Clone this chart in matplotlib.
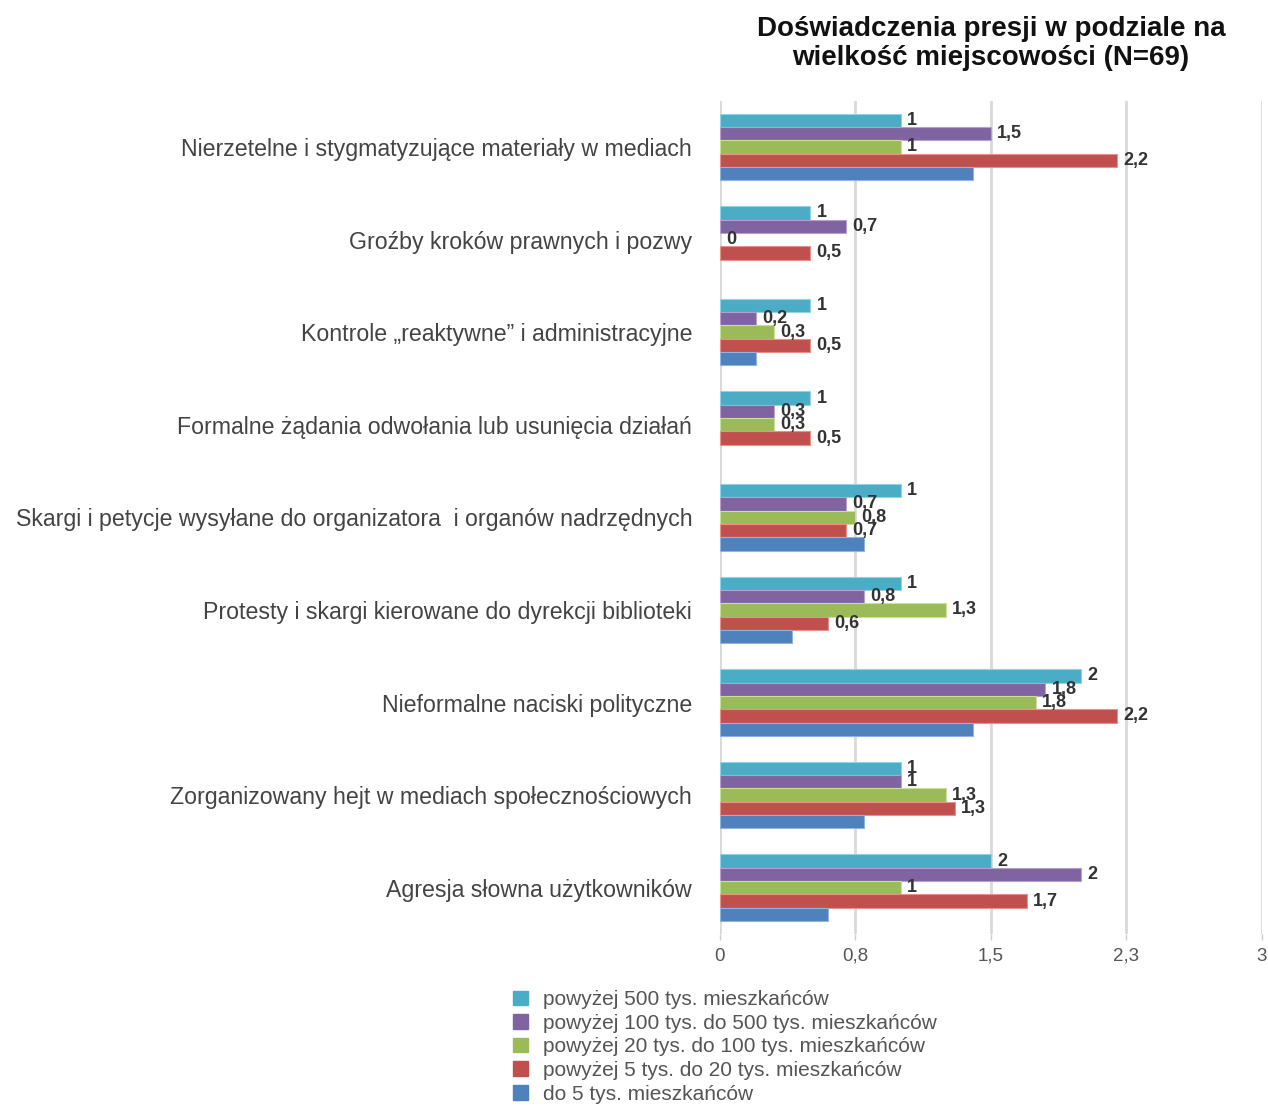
import matplotlib
matplotlib.use("Agg")
import matplotlib.pyplot as plt
import numpy as np

plt.rcParams['font.family'] = ['Liberation Sans', 'DejaVu Sans']

categories = [
    "Nierzetelne i stygmatyzujące materiały w mediach",
    "Groźby kroków prawnych i pozwy",
    "Kontrole „reaktywne” i administracyjne",
    "Formalne żądania odwołania lub usunięcia działań",
    "Skargi i petycje wysyłane do organizatora  i organów nadrzędnych",
    "Protesty i skargi kierowane do dyrekcji biblioteki",
    "Nieformalne naciski polityczne",
    "Zorganizowany hejt w mediach społecznościowych",
    "Agresja słowna użytkowników",
]

series_names = [
    "powyżej 500 tys. mieszkańców",
    "powyżej 100 tys. do 500 tys. mieszkańców",
    "powyżej 20 tys. do 100 tys. mieszkańców",
    "powyżej 5 tys. do 20 tys. mieszkańców",
    "do 5 tys. mieszkańców",
]

# bar lengths as drawn
v_500 = [1.0, 0.5, 0.5, 0.5, 1.0, 1.0, 2.0, 1.0, 1.5]
v_100 = [1.5, 0.7, 0.2, 0.3, 0.7, 0.8, 1.8, 1.0, 2.0]
v_20 = [1.0, 0.0, 0.3, 0.3, 0.75, 1.25, 1.75, 1.25, 1.0]
v_5 = [2.2, 0.5, 0.5, 0.5, 0.7, 0.6, 2.2, 1.3, 1.7]
v_small = [1.4, 0.0, 0.2, 0.0, 0.8, 0.4, 1.4, 0.8, 0.6]

# data labels as printed
l_500 = ["1", "1", "1", "1", "1", "1", "2", "1", "2"]
l_100 = ["1,5", "0,7", "0,2", "0,3", "0,7", "0,8", "1,8", "1", "2"]
l_20 = ["1", "0", "0,3", "0,3", "0,8", "1,3", "1,8", "1,3", "1"]
l_5 = ["2,2", "0,5", "0,5", "0,5", "0,7", "0,6", "2,2", "1,3", "1,7"]
l_small = [None] * 9

tick_values = [0, 0.75, 1.5, 2.25, 3]
tick_labels = ["0", "0,8", "1,5", "2,3", "3"]

colors = ["#4BACC6", "#8064A2", "#9BBB59", "#C0504D", "#4F81BD"]
edges = ["#8fd3e6", "#b5a0d0", "#c8e09a", "#e8908c", "#8fb4e0"]

values = [v_500, v_100, v_20, v_5, v_small]
labels = [l_500, l_100, l_20, l_5, l_small]

fig = plt.figure(figsize=(12.68, 11.06), dpi=100)
ax = fig.add_axes([0.5678, 0.1555, 0.4274, 0.7535])

y = np.arange(len(categories))
h = 0.144
for i, (vals, labs) in enumerate(zip(values, labels)):
    yy = y + (i - 2) * h
    lws = [0.8 if v > 0 else 0 for v in vals]
    ax.barh(yy, vals, height=h, color=colors[i], edgecolor=edges[i], linewidth=lws, zorder=3)
    for yv, v, lab in zip(yy, vals, labs):
        if lab is None:
            continue
        ax.annotate(lab, (v, yv), xytext=(4.5, 0), textcoords='offset points',
                    ha='left', va='center', fontsize=13, fontweight='bold', color='#333333', zorder=4)

ax.set_ylim(len(categories) - 0.5, -0.5)
ax.set_xlim(0, 3)
ax.set_xticks(tick_values)
ax.set_xticklabels(tick_labels)
ax.set_yticks(y)
ax.set_yticklabels(categories)
ax.tick_params(axis='y', length=0, pad=20, labelsize=16.7, labelcolor='#444444')
ax.tick_params(axis='x', length=4, width=1, color='#d0d0d0', pad=6, labelsize=13.5, labelcolor='#555555')
ax.grid(axis='x', color='#d9d9d9', linewidth=2, zorder=0)
for s in ax.spines.values():
    s.set_visible(False)

ax.set_title("Doświadczenia presji w podziale na\nwielkość miejscowości (N=69)",
             fontsize=20, fontweight='bold', color='#111111', pad=26, linespacing=1.12)

handles = [plt.Rectangle((0, 0), 1, 1, color=c) for c in colors]
fig.legend(handles, series_names, loc='upper left', bbox_to_anchor=(0.3965, 0.114),
           frameon=False, fontsize=15, handlelength=0.7, handleheight=0.7,
           handletextpad=0.75, labelspacing=0.22, borderpad=0, labelcolor='#555555')

fig.savefig("out.png", dpi=100)
